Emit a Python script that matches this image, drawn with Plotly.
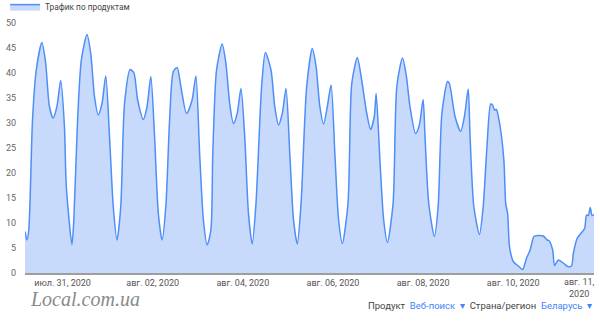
import pandas as pd
import plotly.graph_objects as go

# hours relative to 2020-07-31 00:00 and traffic values
hours = [-20, -19, -18, -16, -14, -11, -9, -7, -5, -3, -1, 1, 2, 5, 6, 8, 10, 13, 15, 17, 19, 21, 23,
         25, 27, 29, 31, 33, 36, 38, 40, 43, 45, 47, 49, 51, 53, 55, 57, 59, 61, 63, 66, 69, 71, 73,
         75, 77, 79, 80, 82, 85, 87, 89, 91, 93, 95, 97, 99, 101, 103, 106, 108, 111, 113, 115, 117,
         119, 121, 123, 125, 127, 130, 133, 135, 137, 139, 141, 143, 145, 147, 149, 152, 154, 157,
         159, 162, 164, 166, 167, 169, 171, 173, 176, 178, 181, 183, 185, 188, 190, 192, 193, 195,
         198, 200, 202, 205, 206, 209, 212, 214, 216, 217, 219, 222, 224, 226, 228, 229, 230, 231,
         233, 235, 236, 237, 238, 240, 243, 245, 247, 249, 251, 253, 256, 258, 259, 261, 262, 264,
         267, 269, 271, 272, 274, 276, 278, 279, 280, 281, 282, 283]
traffic = [8.3, 6.6, 8.6, 30.6, 40.6, 46.1, 42.0, 33.3, 31.0, 33.3, 38.5, 29.3, 17.3, 5.7, 10.6, 30.6,
           42.6, 47.7, 43.9, 35.3, 31.6, 33.9, 39.4, 27.3, 13.3, 6.6, 13.3, 33.9, 40.7, 40.0, 34.6,
           30.7, 33.3, 39.3, 27.3, 11.9, 6.6, 13.3, 30.6, 40.3, 41.1, 37.3, 31.9, 34.6, 39.4, 23.9,
           10.6, 5.6, 8.6, 23.9, 40.6, 45.8, 41.9, 33.9, 29.9, 31.9, 36.9, 27.3, 11.9, 5.8, 13.9,
           37.3, 44.1, 40.6, 33.3, 29.6, 31.9, 36.9, 23.9, 10.6, 5.8, 13.9, 37.3, 44.9, 41.3, 33.3,
           29.8, 33.3, 37.6, 23.9, 10.6, 5.9, 13.9, 37.9, 43.1, 39.3, 31.9, 28.7, 31.3, 35.9, 22.6,
           10.6, 6.1, 13.9, 37.3, 43.0, 39.6, 33.3, 27.9, 29.6, 34.7, 27.3, 13.9, 7.3, 13.3, 31.9,
           38.3, 37.9, 31.3, 28.3, 31.3, 36.8, 27.3, 13.3, 7.7, 13.3, 25.3, 33.8, 33.6, 32.6, 32.7,
           29.3, 22.6, 13.9, 11.9, 5.3, 2.3, 1.3, 0.7, 2.9, 4.6, 7.3, 7.5, 7.4, 6.6, 6.5, 4.6, 1.5,
           2.6, 1.9, 1.3, 1.4, 3.9, 6.9, 7.9, 8.9, 11.6, 11.5, 13.1, 11.5, 11.7]

tick_hours = [0, 48, 96, 144, 192, 240]
tick_labels = ["июл. 31, 2020", "авг. 02, 2020", "авг. 04, 2020", "авг. 06, 2020",
               "авг. 08, 2020", "авг. 10, 2020"]
y_ticks = [0, 5, 10, 15, 20, 25, 30, 35, 40, 45, 50]

base = pd.Timestamp("2020-07-31 00:00")
times = [base + pd.Timedelta(hours=h) for h in hours]
tick_times = [base + pd.Timedelta(hours=h) for h in tick_hours]

fig = go.Figure()
fig.add_trace(go.Scatter(
    x=times, y=traffic, mode="lines", name="Трафик по продуктам",
    line=dict(color="#4d8ef8", width=1.5, shape="spline", smoothing=0.7),
    fill="tozeroy", fillcolor="#c8dafb", hoverinfo="skip",
))

fig.update_layout(
    width=600, height=322,
    margin=dict(l=25, r=6, t=10, b=49, autoexpand=False),
    paper_bgcolor="white", plot_bgcolor="white",
    font=dict(family="Roboto", size=9, color="#555"),
    showlegend=True,
    legend=dict(orientation="h", x=-0.035, y=1.068,
                xanchor="left", yanchor="top",
                font=dict(size=8.3, color="#444"), bgcolor="rgba(0,0,0,0)",
                itemwidth=30, tracegroupgap=0),
    xaxis=dict(
        range=[times[0], times[-1]], tickvals=tick_times, ticktext=tick_labels,
        showgrid=False, zeroline=False, showline=True, linecolor="#9e9e9e", linewidth=2,
        ticks="", tickfont=dict(size=9, color="#555"), fixedrange=True,
    ),
    yaxis=dict(
        range=[0, 52.6], tickvals=y_ticks, showgrid=False, zeroline=False, showline=False,
        ticks="", tickfont=dict(size=9, color="#666"), ticklabelstandoff=8, fixedrange=True,
    ),
)

fig.add_annotation(xref="paper", yref="paper", x=1.0, xshift=3, y=0, yshift=-2, xanchor="right",
                   yanchor="top", align="center", showarrow=False,
                   text="авг. 11,<br>2020", font=dict(size=9, color="#555"))
fig.add_annotation(xref="paper", yref="paper", x=0, xshift=3, y=0, yshift=-13, xanchor="left",
                   yanchor="top", showarrow=False, text="Local.com.ua",
                   font=dict(family="Liberation Serif", size=20, color="#8a8a8a", style="italic"))
fig.add_annotation(xref="paper", yref="paper", x=1.0, y=0, yshift=-25, xanchor="right",
                   yanchor="top", showarrow=False,
                   text=("<span style='color:#444'>Продукт</span>  "
                         "<span style='color:#4285f4'>Веб-поиск  ▾</span>  "
                         "<span style='color:#444'>Страна/регион</span>  "
                         "<span style='color:#4285f4'>Беларусь  ▾</span>"),
                   font=dict(size=9.5))

fig.write_html("out.html")
